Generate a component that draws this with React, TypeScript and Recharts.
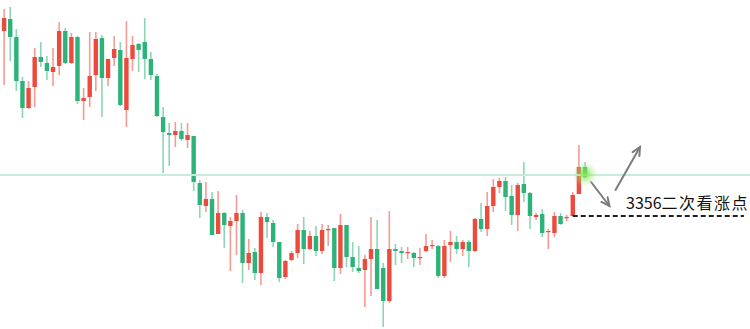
import { ComposedChart, Bar, XAxis, YAxis, ReferenceLine, ReferenceDot } from "recharts";

const RED = "#eb4a3d";
const GREEN = "#2db27a";

// OHLC, one entry per candle
const opens = [
  3448, 3454, 3445, 3423, 3409.5, 3420, 3435, 3432, 3427.5, 3430.5,
  3448, 3432, 3445, 3413, 3415, 3426, 3444.5, 3424.5, 3434.5, 3438.5,
  3408.5, 3434, 3441.5, 3442.5, 3434, 3425.5, 3405, 3397, 3396, 3398,
  3393.5, 3395.5, 3372, 3360.5, 3364, 3346.5, 3357, 3350.5, 3353, 3357,
  3332, 3337.5, 3327, 3355, 3352, 3342.5, 3325, 3333.5, 3337, 3348.5,
  3339, 3345.5, 3338, 3348.5, 3349.5, 3329.5, 3351, 3335, 3329.5, 3328.5,
  3334, 3339, 3329.5, 3313, 3339, 3338, 3337, 3337, 3334.5, 3338,
  3340.5, 3340.5, 3325.5, 3341, 3342.5, 3339, 3342.5, 3338, 3354, 3349,
  3360.5, 3370, 3373, 3365.5, 3356, 3371.5, 3367, 3355, 3356.5, 3347.5,
  3347, 3355.5, 3354.5, 3355.5, 3366.5, 3380,
];
const highs = [
  3459, 3460, 3449, 3425, 3423, 3439.5, 3442.5, 3435.5, 3439.5, 3452.5,
  3449.5, 3447, 3445.5, 3419.5, 3447.5, 3447.5, 3446, 3434, 3445.5, 3442.5,
  3453, 3445.5, 3442, 3454.5, 3437.5, 3426.5, 3410, 3402, 3402.5, 3402,
  3402, 3395.5, 3373.5, 3372.5, 3367.5, 3368, 3357.5, 3355, 3366, 3358.5,
  3344, 3339.5, 3357.5, 3357, 3353.5, 3342.5, 3333.5, 3338, 3351.5, 3355,
  3348, 3350.5, 3351.5, 3351, 3349.5, 3356.5, 3351, 3342.5, 3340.5, 3336,
  3355, 3353.5, 3332, 3358, 3341.5, 3340, 3340, 3337.5, 3339.5, 3346.5,
  3343.5, 3341, 3343.5, 3348, 3345.5, 3343.5, 3343.5, 3354.5, 3362, 3367.5,
  3374, 3374.5, 3375, 3371, 3372, 3382.5, 3367.5, 3357, 3359, 3349,
  3357.5, 3357, 3356, 3367.5, 3391, 3382.5,
];
const lows = [
  3421, 3433, 3418, 3404.5, 3409, 3410, 3430, 3423.5, 3420.5, 3426,
  3431.5, 3431.5, 3411.5, 3403.5, 3410, 3418, 3405, 3420.5, 3430.5, 3410.5,
  3400, 3428, 3427.5, 3424, 3423.5, 3405, 3377, 3380.5, 3390, 3393,
  3389.5, 3368, 3354.5, 3357.5, 3346, 3346.5, 3339.5, 3328, 3336, 3322,
  3328.5, 3323.5, 3321, 3344.5, 3340, 3322.5, 3324, 3333, 3334.5, 3331.5,
  3338.5, 3335.5, 3336.5, 3340.5, 3323, 3326.5, 3330, 3327.5, 3327, 3310,
  3315.5, 3319, 3300, 3312, 3331, 3332, 3334, 3330, 3331, 3337.5,
  3339, 3324.5, 3324.5, 3332.5, 3336.5, 3335.5, 3330, 3337.5, 3347.5, 3345.5,
  3357.5, 3367, 3358, 3351, 3348, 3362.5, 3349, 3353.5, 3345, 3339,
  3345, 3351, 3353, 3355.5, 3366.5, 3374.5,
];
const closes = [
  3454.5, 3445, 3423, 3409.5, 3419.5, 3435, 3432.5, 3428, 3430, 3448,
  3432, 3445, 3413, 3414.5, 3425.5, 3444, 3424.5, 3434, 3439, 3411,
  3434.5, 3441, 3438.5, 3434, 3426, 3405.5, 3397.5, 3396, 3398, 3394,
  3396, 3372.5, 3361, 3364, 3346, 3357, 3351, 3353, 3357, 3332,
  3337, 3327, 3355, 3352.5, 3342.5, 3324.5, 3333, 3337, 3348.5, 3339,
  3345.5, 3338, 3348.5, 3349, 3329.5, 3351, 3335, 3330, 3328, 3334,
  3339, 3319, 3313, 3339, 3338, 3337, 3337.5, 3334.5, 3335, 3340.5,
  3341, 3325.5, 3340.5, 3342.5, 3339, 3342.5, 3338, 3354, 3349, 3360.5,
  3370, 3373, 3365, 3356, 3371, 3367, 3355.5, 3356, 3347, 3348,
  3355.5, 3351.5, 3355, 3366, 3380, 3375,
];

const EMPTY_SLOTS = 26;
const RESISTANCE = 3376;
const SUPPORT = 3355.5;
const LABEL = "3356";
const LABEL_CN = "二次看涨点";

// arrows in (candle index, price)
const arrowDown = [{ x: 96, y: 3372.5 }, { x: 99, y: 3360.5 }];
const arrowUp = [{ x: 100, y: 3368.5 }, { x: 104, y: 3390 }];

const data = Array.from({ length: opens.length + EMPTY_SLOTS }, (_, i) =>
  i < opens.length
    ? {
        i,
        open: opens[i],
        high: highs[i],
        low: lows[i],
        close: closes[i],
        range: [lows[i], highs[i]],
      }
    : { i }
);

function Candle(props: any) {
  const { x, y, width, height, payload } = props;
  if (!payload || payload.open == null) return null;
  const { open, close, high, low } = payload;
  const top = Math.min(y, y + height);
  const h = Math.abs(height);
  const k = h / (high - low);
  const cx = x + width / 2;
  const color = close >= open ? RED : GREEN;
  const bodyTop = top + (high - Math.max(open, close)) * k;
  const bodyH = Math.max(1.2, Math.abs(open - close) * k);
  return (
    <g>
      <line x1={cx} x2={cx} y1={top} y2={top + h} stroke={color} strokeOpacity={0.55} strokeWidth={1.6} />
      <rect x={cx - 2.2} y={bodyTop} width={4.4} height={bodyH} fill={color} />
    </g>
  );
}

function Arrow(props: any) {
  const { x1, y1, x2, y2 } = props;
  const a = Math.atan2(y2 - y1, x2 - x1);
  const len = 9;
  const spread = 0.45;
  const p1 = [x2 - len * Math.cos(a - spread), y2 - len * Math.sin(a - spread)];
  const p2 = [x2 - len * Math.cos(a + spread), y2 - len * Math.sin(a + spread)];
  return (
    <g stroke="#7b7b7b" strokeWidth={2} fill="none" strokeLinecap="round">
      <line x1={x1} y1={y1} x2={x2} y2={y2} />
      <polyline points={`${p1[0]},${p1[1]} ${x2},${y2} ${p2[0]},${p2[1]}`} />
    </g>
  );
}

function Glow(props: any) {
  const { cx, cy } = props;
  if (cx == null || cy == null) return null;
  return (
    <g>
      <defs>
        <radialGradient id="glow">
          <stop offset="0%" stopColor="#7de84a" stopOpacity={0.95} />
          <stop offset="40%" stopColor="#8ee660" stopOpacity={0.55} />
          <stop offset="100%" stopColor="#c2f2a6" stopOpacity={0} />
        </radialGradient>
      </defs>
      <circle cx={cx} cy={cy} r={13} fill="url(#glow)" />
    </g>
  );
}

export default function App() {
  return (
    <div style={{ position: "relative", width: 750, height: 329, background: "#fff" }}>
      <style>{`body{margin:0}`}</style>
      <ComposedChart width={750} height={329} data={data} margin={{ top: 0, right: 0, bottom: 0, left: 0 }}>
        <XAxis dataKey="i" type="category" hide padding={{ left: 1, right: 3 }} />
        <YAxis type="number" hide domain={[3299, 3463.5]} allowDataOverflow />
        <ReferenceLine y={RESISTANCE} stroke="#c8ecda" strokeWidth={2} />
        <Bar dataKey="range" isAnimationActive={false} shape={(p: any) => <Candle {...p} />} />
        <ReferenceLine
          segment={[{ x: 93, y: SUPPORT }, { x: opens.length + EMPTY_SLOTS - 1, y: SUPPORT }]}
          stroke="#222"
          strokeWidth={2}
          strokeDasharray="5 3"
        />
        <ReferenceLine segment={arrowDown} shape={(p: any) => <Arrow {...p} />} />
        <ReferenceLine segment={arrowUp} shape={(p: any) => <Arrow {...p} />} />
        <ReferenceDot x={95} y={3376.5} r={13} shape={(p: any) => <Glow {...p} />} />
      </ComposedChart>
      <div
        style={{
          position: "absolute",
          left: 626,
          top: 193,
          fontSize: 16,
          lineHeight: "18px",
          color: "#111",
          fontFamily: "'Noto Sans CJK SC', 'Noto Sans', sans-serif",
          whiteSpace: "nowrap",
        }}
      >
        {LABEL}
        <span style={{ letterSpacing: 1.5 }}>{LABEL_CN}</span>
      </div>
    </div>
  );
}
